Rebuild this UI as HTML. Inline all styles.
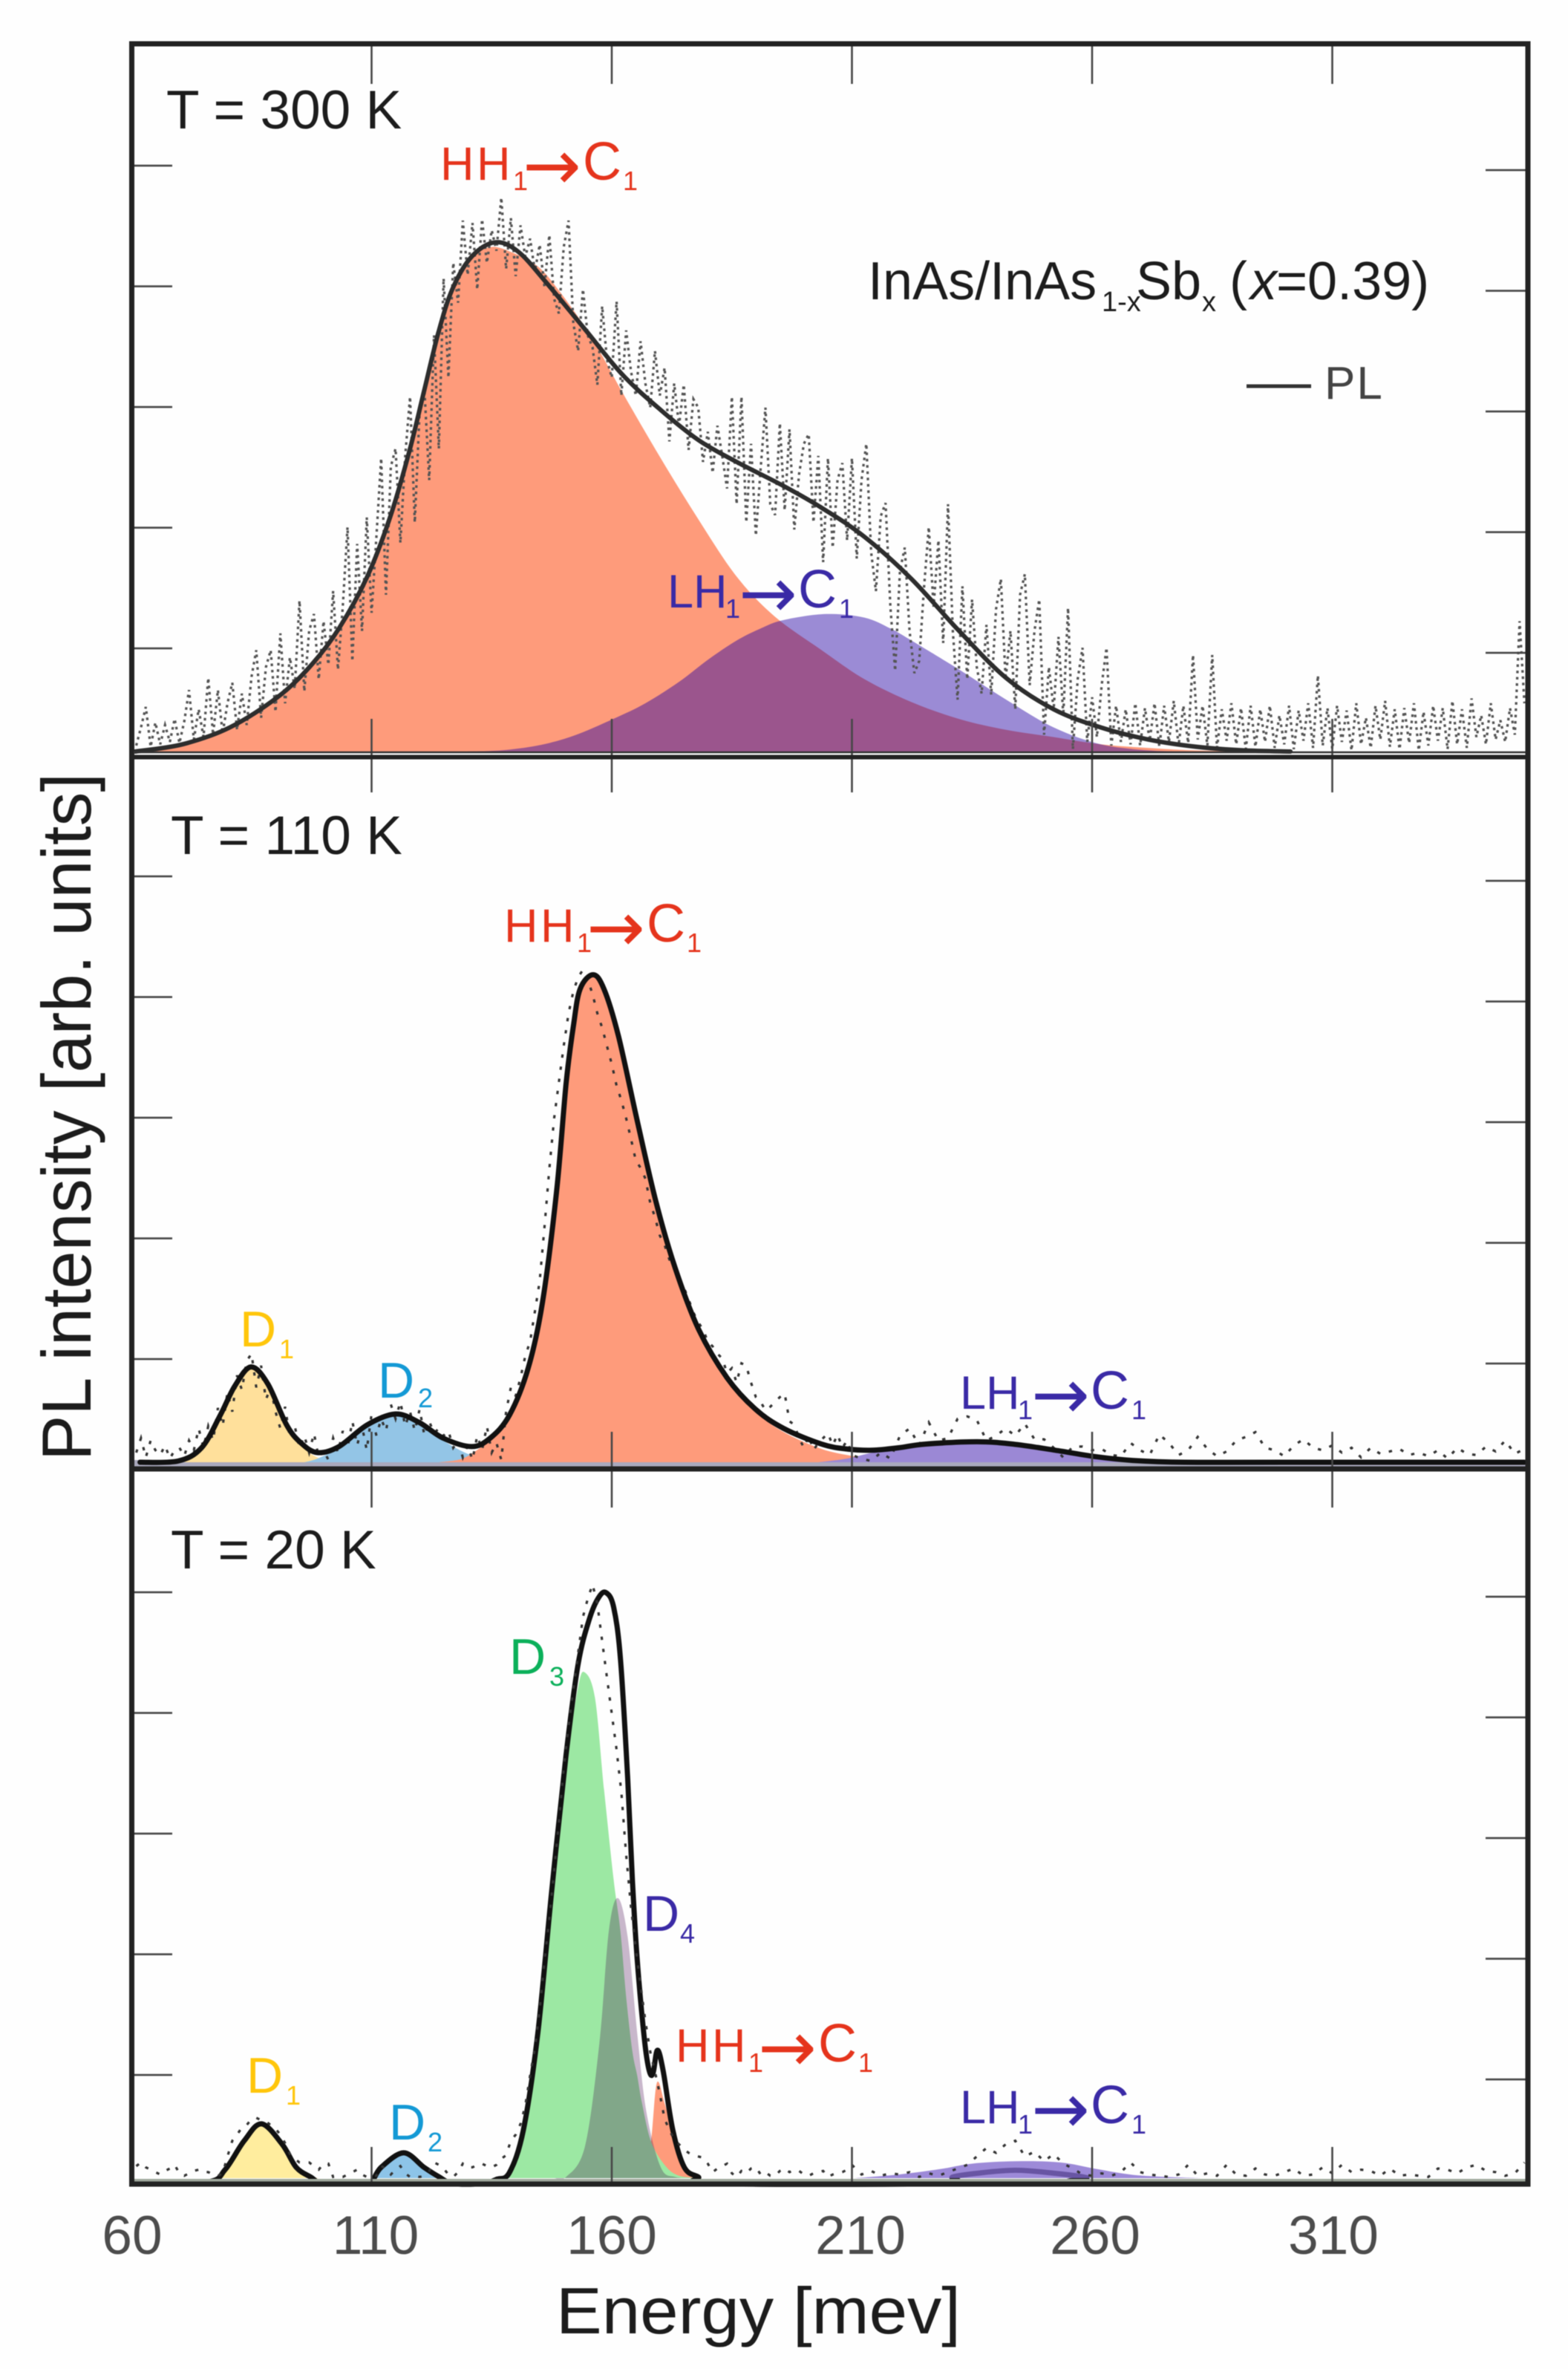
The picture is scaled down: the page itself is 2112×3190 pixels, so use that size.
<!DOCTYPE html>
<html lang="en">
<head>
<meta charset="utf-8">
<title>InAs/InAsSb PL spectra</title>
<style>
html,body{margin:0;padding:0;background:#fefefe;}
#chart{display:block;width:2112px;height:3190px;filter:blur(0.6px);font-family:"Liberation Sans",sans-serif;}
.arw{font-family:"DejaVu Sans",sans-serif;font-size:94px;}
.cap{font-size:72px;}
</style>
</head>
<body>
<svg id="chart" xmlns="http://www.w3.org/2000/svg" width="2112" height="3190" viewBox="0 0 2112 3190">
  <rect x="0" y="0" width="2112" height="3190" fill="#fefefe"/>
  <g id="marks"></g>
  <g id="ticks"></g>
  <g id="frames" fill="none" stroke="#222">
    <rect x="177.5" y="59" width="1880.5" height="2882" stroke-width="7"/>
    <line x1="177" y1="1019.5" x2="2058" y2="1019.5" stroke-width="6"/>
    <line x1="177" y1="1978" x2="2058" y2="1978" stroke-width="7"/>
    <line x1="180" y1="1013" x2="2055" y2="1013" stroke-width="2.5" stroke="#333"/>
  </g>

  <g id="text" font-family="'Liberation Sans',sans-serif">
    <text transform="translate(122,1967) rotate(-90)" font-size="94" fill="#1c1c1c" textLength="926" lengthAdjust="spacingAndGlyphs">PL intensity [arb. units]</text>
    <text x="749" y="3142" font-size="88" fill="#1c1c1c" textLength="545" lengthAdjust="spacingAndGlyphs">Energy [mev]</text>

    <text x="178" y="3035" font-size="73" fill="#4c4c4c" text-anchor="middle">60</text>
    <text x="506" y="3035" font-size="73" fill="#4c4c4c" text-anchor="middle">110</text>
    <text x="824" y="3035" font-size="73" fill="#4c4c4c" text-anchor="middle">160</text>
    <text x="1159" y="3035" font-size="73" fill="#4c4c4c" text-anchor="middle">210</text>
    <text x="1475" y="3035" font-size="73" fill="#4c4c4c" text-anchor="middle">260</text>
    <text x="1796" y="3035" font-size="73" fill="#4c4c4c" text-anchor="middle">310</text>

    <text x="224" y="173" font-size="73" fill="#1c1c1c">T = 300 K</text>
    <text x="230" y="1150" font-size="73" fill="#1c1c1c">T = 110 K</text>
    <text x="230" y="2112" font-size="73" fill="#1c1c1c">T = 20 K</text>

    <text font-size="72" fill="#1c1c1c"><tspan x="1169" y="403">InAs/InAs</tspan><tspan x="1484" y="419" font-size="38">1-x</tspan><tspan x="1530" y="403">Sb</tspan><tspan x="1619" y="419" font-size="38">x</tspan><tspan x="1656" y="403">(</tspan><tspan x="1684" y="403" font-style="italic">x</tspan><tspan x="1719" y="403">=0.39)</tspan></text>

    <line x1="1679" y1="520" x2="1766" y2="520" stroke="#333" stroke-width="5"/>
    <text x="1784" y="537" font-size="62" fill="#444" letter-spacing="2">PL</text>

    <g transform="translate(593,242)" fill="#e5341c">
      <text font-size="63"><tspan x="0" y="0">H</tspan><tspan x="49" y="0">H</tspan><tspan x="98" y="14" font-size="36">1</tspan><tspan class="arw" x="111" y="13">→</tspan><tspan class="cap" x="192" y="0">C</tspan><tspan x="246" y="14" font-size="36">1</tspan></text>
    </g>
    <g transform="translate(679,1268)" fill="#e5341c">
      <text font-size="63"><tspan x="0" y="0">H</tspan><tspan x="49" y="0">H</tspan><tspan x="98" y="14" font-size="36">1</tspan><tspan class="arw" x="111" y="13">→</tspan><tspan class="cap" x="192" y="0">C</tspan><tspan x="246" y="14" font-size="36">1</tspan></text>
    </g>
    <g transform="translate(910,2776)" fill="#e5341c">
      <text font-size="63"><tspan x="0" y="0">H</tspan><tspan x="49" y="0">H</tspan><tspan x="98" y="14" font-size="36">1</tspan><tspan class="arw" x="111" y="13">→</tspan><tspan class="cap" x="192" y="0">C</tspan><tspan x="246" y="14" font-size="36">1</tspan></text>
    </g>

    <g transform="translate(899,818)" fill="#3a2aa6">
      <text font-size="63"><tspan x="0" y="0">L</tspan><tspan x="35" y="0">H</tspan><tspan x="78" y="14" font-size="36">1</tspan><tspan class="arw" x="96" y="13">→</tspan><tspan class="cap" x="176" y="0">C</tspan><tspan x="231" y="14" font-size="36">1</tspan></text>
    </g>
    <g transform="translate(1293,1897)" fill="#3a2aa6">
      <text font-size="63"><tspan x="0" y="0">L</tspan><tspan x="35" y="0">H</tspan><tspan x="78" y="14" font-size="36">1</tspan><tspan class="arw" x="96" y="13">→</tspan><tspan class="cap" x="176" y="0">C</tspan><tspan x="231" y="14" font-size="36">1</tspan></text>
    </g>
    <g transform="translate(1293,2859)" fill="#3a2aa6">
      <text font-size="63"><tspan x="0" y="0">L</tspan><tspan x="35" y="0">H</tspan><tspan x="78" y="14" font-size="36">1</tspan><tspan class="arw" x="96" y="13">→</tspan><tspan class="cap" x="176" y="0">C</tspan><tspan x="231" y="14" font-size="36">1</tspan></text>
    </g>

    <text font-size="68" fill="#ffc60b"><tspan x="323" y="1813">D</tspan><tspan x="376" y="1829" font-size="36">1</tspan></text>
    <text font-size="68" fill="#1399d5"><tspan x="509" y="1882">D</tspan><tspan x="563" y="1895" font-size="36">2</tspan></text>
    <text font-size="68" fill="#ffc60b"><tspan x="332" y="2818">D</tspan><tspan x="385" y="2834" font-size="36">1</tspan></text>
    <text font-size="68" fill="#1399d5"><tspan x="524" y="2881">D</tspan><tspan x="576" y="2897" font-size="36">2</tspan></text>
    <text font-size="68" fill="#0bb05a"><tspan x="686" y="2254">D</tspan><tspan x="740" y="2270" font-size="36">3</tspan></text>
    <text font-size="68" fill="#3a2aa6"><tspan x="866" y="2600">D</tspan><tspan x="916" y="2616" font-size="36">4</tspan></text>
  </g>
</svg>

<script>
// ---- tick values ----
const xTickValues = [110,160,210,260,310];
const yTickValues = [85.5,185.5,285.5,385.5,485.5];

// ---- T = 300 K ----
const pl300Energy = [60.8,70.6,80.5,90.4,97.3,103.2,109.1,114,118,121,123.9,126.8,130.8,135.7,140.6,146.5,154.4,162.3,170.2,178.1,186,195.8,203.7,212.6,222.4,232.3,242.1,252,261.8,271.7,281.6,291.4,301.3];
const pl300Intensity = [0,6,20,45,71,102,145,196,251,300,347,383,410,422,414,388,350,312,283,258,240,220,202,178,143,100,61,35,20,10,4,1,0];
const hh300Energy = [60.8,70.6,80.5,90.4,97.3,103.2,109.1,114,118,121,123.9,126.8,130.8,134.7,139,144.6,149,154.4,158,162.3,170.2,178.1,186,193.9,203.7,212.6,222.4,232.3,242.1,252,261.8,271.7,281.6,295];
const hh300Intensity = [0,5,19,44,70,100,143,193,248,296,343,379,408,418,414,402,382,352,328,297,243,192,145,112,84,60,41,27,18,12,6,3,1,0];
const lh300Energy = [129.8,137,144.6,152,160.3,167,174.1,180,186,191,195.8,204.7,212.6,218,222.4,232.3,242.1,252,261.8,271.7,280];
const lh300Intensity = [0,1,5,13,27,40,58,76,92,102,109,114,111,102,92,68,43,20,6,1,0];
const noise300Start = 61;
const noise300Values = [
5,20,37,4,24,6,22,8,27,7,
25,51,10,35,12,61,14,51,15,40,
57,18,48,22,62,84,28,70,84,33,
98,40,78,52,125,50,100,114,60,108,
72,133,68,120,186,75,172,100,194,115,
178,243,130,236,251,173,245,294,190,282,
300,225,345,251,392,310,405,372,440,395,
438,383,441,405,432,415,459,400,442,394,
436,410,425,398,420,385,428,375,363,418,
440,355,332,383,345,335,304,369,325,310,
373,295,349,315,295,340,305,285,332,295,
318,257,305,270,304,250,292,285,240,265,
231,270,245,218,294,205,294,190,255,179,
235,285,205,196,272,200,267,184,230,255,
263,190,245,157,243,169,225,239,175,243,
160,225,255,165,133,195,206,120,67,150,
169,100,65,75,135,186,120,175,90,205,
100,43,137,60,126,70,48,105,47,118,
143,60,100,35,130,147,55,100,126,14,
70,35,95,30,119,2,60,86,8,45,
12,55,86,5,38,8,35,6,40,5,
36,9,40,4,38,8,42,5,38,7,
80,10,38,5,80,3,35,9,40,6,
36,2,38,4,35,8,38,3,30,6,
38,2,34,9,40,3,63,5,36,2,
38,8,34,1,40,6,28,3,38,10,
42,4,35,2,36,7,40,1,33,5,
38,9,36,2,42,6,35,3,44,12,
30,6,40,10,26,8,36,14,108,40];

// ---- T = 110 K ----
const pl110Energy = [61.8,69.7,74.6,78.5,81.5,84.9,88.4,92.3,95.3,98.7,103.2,109.1,115,119.9,124.9,130.8,134.7,138.7,142.6,145.6,148.5,150.5,152,153.4,156.1,158.4,161.4,165.3,169.2,173.2,178.1,184,189.9,195.8,203.7,208.9,214.3,219.7,225.2,236,243.6,252.3,261,268.5,279.4,300,350];
const pl110Intensity = [0,1,12,39,63,79,65,31,16,8,13,31,40,33,20,13,20,39,78,133,224,314,361,392,404,392,353,283,216,161,110,70,44,28,15,11,10,12,15,17,15,10,4.5,1.5,0,0,0];
const d1110Energy = [71,74.6,78.5,81.5,84.9,88.4,92.3,95.3,98.7,103];
const d1110Intensity = [0,11,38,62,78,64,30,14,4,0];
const d2110Energy = [96,98.7,103.2,109.1,115,119.9,124.9,130,135,140];
const d2110Intensity = [0,3,12,30,39,32,18,7,2,0];
const hh110Energy = [124,128,130.8,134.7,138.7,142.6,145.6,148.5,150.5,152,153.4,156.1,158.4,161.4,165.3,169.2,173.2,178.1,184,189.9,195.8,203.7,210.4,216,224];
const hh110Intensity = [0,2,7,19,38,77,132,223,313,360,391,403,391,352,282,215,160,109,69,42,25,11,5,2,0];
const lh110Energy = [203,208.9,214.3,219.7,225.2,236,243.6,252.3,261,268.5,276];
const lh110Intensity = [0,3,8,11,14,16,14,9,4,1,0];
// dotted data: 61..210 in 1 meV steps
const noise110Low = [
8,20,4,18,10,6,14,3,10,12,
5,18,10,28,12,30,18,45,30,58,
42,72,60,84,90,62,80,52,62,42,
28,46,20,30,12,22,8,24,4,10,
2,20,8,26,12,34,14,30,10,40,
22,36,26,48,36,50,30,42,26,44,
22,34,24,28,22,26,12,18,4,14,
2,22,10,30,8,16,2,42,62,55,
70,88,100,125,150,195,243,285,315,345,
372,390,402,408,400,388,372,360,345,330,
312,300,285,268,250,244,235,215,203,188,
180,168,161,150,145,135,124,116,110,100,
96,90,86,74,78,66,82,80,66,54,
50,43,46,50,54,57,34,31,20,12,
22,10,16,20,24,14,23,12,18,6];
// dotted data: 212..350 in 2 meV steps
const noise110High = [
3,1,8,3,22,28,14,33,18,20,
36,38,35,18,22,28,22,32,19,19,
12,4,13,13,10,11,6,5,16,10,
6,23,16,6,10,21,11,5,9,18,
21,25,12,10,5,14,19,12,10,14,
8,12,4,12,7,9,11,6,8,5,
10,3,12,7,6,13,9,18,7,11];

// ---- T = 20 K ----
const pl20Energy = [63,76,79.5,83.5,87.1,91.4,94.3,97.3,100,108,110,112,116.7,120.9,123.9,127,133,136,138.7,141.6,144.6,147.5,150.5,153,155.4,157.4,158.9,160.4,161.8,163.3,164.3,165.3,166.8,167.8,168.6,169.5,170.7,172.7,175.1,178,181,228,231,236,244,252.3,258.8,262,350];
const pl20Intensity = [-4.5,-3,7,31,45,28,9,1,-4.5,-4.5,-3,9,21,9,1.4,-4.5,-4.5,-1,4.7,40,120,238,351,426,464,482,485,473,431,332,247,181,115,89,87,106,89,40,9,1,-4.5,-4.5,1,4,6.5,4,0.5,-4.5,-4.5];
const d120Energy = [77.5,79.5,83.5,87.1,91.4,94.3,96.5,99];
const d120Intensity = [0,6,30,44,27,8,2,0];
const d220Energy = [110.5,112,116.7,120.9,123,125];
const d220Intensity = [0,7,20,8,1,0];
const d320Energy = [135,137.7,141.6,144.6,147.5,150.5,153,154.4,156.5,158.4,160.4,161.8,163,164.3,165.3,166.3,168.2,171.2,174,178];
const d320Intensity = [0,1,38,115,228,341,407,419,398,322,247,205,150,105,85,62,30,10,2,0];
const d420Energy = [148,150.5,154.4,157.4,159.4,161.3,163.3,165.3,167.2,170.2,173.2,177];
const d420Intensity = [0,1,26,111,205,232,200,120,55,9,1,0];
const hh20Energy = [165.5,167,168.2,169.4,171,172.7,175,178];
const hh20Intensity = [0,8,31,79,62,38,9,0];
const lh20Energy = [210.5,219.7,228.4,235,244.1,253.4,261,269.6,282.6];
const lh20Intensity = [0,3,7.5,12,14,13,7.5,2.3,0];
const noise20Low = [
10,13,9,7,5,3,6,8,11,4,
2,4,6,7,5,5,3,2,4,18,
31,36,42,44,49,50,48,47,44,41,
36,29,20,16,13,13,13,10,7,12,
12,1,2,1,3,5,7,3,1,2,
2,10,8,3,7,10,4,1,2,1,
2,6,13,11,8,3,1,5,12,9,
9,11,12,10,9,11,16,19,31,36,
45,60,85,108,140,180,215,255,295,340,
375,405,435,465,480,492,476,445,415,385,
355,320,268,225,190,160,130,105,88,70,
49,40,32,28,24,21,19,18,17,12,
5,8,10,12,4,1,6,4,8,9,
3,5,2,2,6,8,5,7,6,3,
2,4,5,6,1,3,4,5,7,11];
const noise20High = [
3,6,2,4,3,5,1,4,2,5,
8,11,18,25,21,28,31,18,22,14,
20,12,8,3,2,4,2,5,13,5,
3,2,1,3,11,2,4,2,11,3,
2,8,3,2,5,8,2,3,9,4,
11,5,7,6,2,8,2,3,2,1,
8,7,4,9,11,6,5,2,4,13];

// ---- axis functions ----
const PX_PER_MEV = 6.47;
const PX_PER_UNIT = 1.625;
const X_LEFT = 177;
const BASE_300 = 1012;
const BASE_110 = 1969;
const BASE_20 = 2933;
function xScale(energy){ return X_LEFT + (energy - 60) * PX_PER_MEV; }
function yScale(base, intensity){ return base - intensity * PX_PER_UNIT; }

const SVG_NS = 'http://www.w3.org/2000/svg';
const marks = document.getElementById('marks');
const tickGroup = document.getElementById('ticks');

function toPoints(energies, values, base){
  const pts = [];
  for (let i = 0; i < values.length && i < energies.length; i++){
    pts.push([xScale(energies[i]), yScale(base, values[i])]);
  }
  return pts;
}
function smoothPath(pts){
  let d = 'M' + pts[0][0].toFixed(1) + ' ' + pts[0][1].toFixed(1);
  for (let i = 0; i < pts.length - 1; i++){
    const p0 = pts[Math.max(i-1,0)], p1 = pts[i], p2 = pts[i+1], p3 = pts[Math.min(i+2,pts.length-1)];
    const c1x = p1[0] + (p2[0]-p0[0])/6, c1y = p1[1] + (p2[1]-p0[1])/6;
    const c2x = p2[0] - (p3[0]-p1[0])/6, c2y = p2[1] - (p3[1]-p1[1])/6;
    d += 'C' + c1x.toFixed(1) + ' ' + c1y.toFixed(1) + ' ' + c2x.toFixed(1) + ' ' + c2y.toFixed(1) + ' ' + p2[0].toFixed(1) + ' ' + p2[1].toFixed(1);
  }
  return d;
}
function drawFill(name, energies, values, base, color, opacity){
  const pts = toPoints(energies, values, base);
  const el = document.createElementNS(SVG_NS, 'path');
  const d = smoothPath(pts) + 'L' + pts[pts.length-1][0].toFixed(1) + ' ' + base + 'L' + pts[0][0].toFixed(1) + ' ' + base + 'Z';
  el.setAttribute('d', d);
  el.setAttribute('fill', color);
  if (opacity !== undefined) el.setAttribute('fill-opacity', opacity);
  
  
  marks.appendChild(el);
}
function drawCurve(name, energies, values, base, color, width){
  const el = document.createElementNS(SVG_NS, 'path');
  el.setAttribute('d', smoothPath(toPoints(energies, values, base)));
  el.setAttribute('fill', 'none');
  el.setAttribute('stroke', color);
  el.setAttribute('stroke-width', width);
  el.setAttribute('stroke-linejoin', 'round');
  el.setAttribute('stroke-linecap', 'round');
  
  
  marks.appendChild(el);
}
function drawNoise(name, energies, values, base, color, width, dash){
  const pts = toPoints(energies, values, base);
  const el = document.createElementNS(SVG_NS, 'polyline');
  el.setAttribute('points', pts.map(function(p){ return p[0].toFixed(1) + ',' + p[1].toFixed(1); }).join(' '));
  el.setAttribute('fill', 'none');
  el.setAttribute('stroke', color);
  el.setAttribute('stroke-width', width);
  el.setAttribute('stroke-dasharray', dash);
  
  
  marks.appendChild(el);
}
function drawStrip(name, top, height, color){
  const el = document.createElementNS(SVG_NS, 'rect');
  el.setAttribute('x', 180);
  el.setAttribute('y', top);
  el.setAttribute('width', 1875);
  el.setAttribute('height', height);
  el.setAttribute('fill', color);
  
  
  marks.appendChild(el);
}
function tickLine(name, x1, y1, x2, y2){
  const el = document.createElementNS(SVG_NS, 'line');
  el.setAttribute('x1', x1);
  el.setAttribute('y1', y1);
  el.setAttribute('x2', x2);
  el.setAttribute('y2', y2);
  el.setAttribute('stroke', '#474747');
  el.setAttribute('stroke-width', 2.6);
  
  
  tickGroup.appendChild(el);
}
function energyRange(start, step, count){
  const out = [];
  for (let i = 0; i < count; i++) out.push(start + step * i);
  return out;
}

// ---- panel 300 K ----
drawFill('hh1-c1-band-300k', hh300Energy, hh300Intensity, BASE_300, '#fe9b7b');
drawFill('lh1-c1-band-300k', lh300Energy, lh300Intensity, BASE_300, 'rgb(35,0,164)', 0.45);
drawNoise('raw-pl-300k', energyRange(noise300Start, 1, noise300Values.length), noise300Values, BASE_300, '#555', 3.3, '3.5 5');
drawCurve('pl-fit-300k', pl300Energy, pl300Intensity, BASE_300, '#2d2d2d', 6);

// ---- panel 110 K ----
drawStrip('baseline-strip-110k', 1966, 9, '#aaa9bd');
drawFill('d1-band-110k', d1110Energy, d1110Intensity, BASE_110, '#ffe09b');
drawFill('d2-band-110k', d2110Energy, d2110Intensity, BASE_110, '#93c5e6');
drawFill('hh1-c1-band-110k', hh110Energy, hh110Intensity, BASE_110, '#fe9b7b');
drawFill('lh1-c1-band-110k', lh110Energy, lh110Intensity, BASE_110, '#9b88d5');
drawNoise('raw-pl-110k', energyRange(61, 1, noise110Low.length).concat(energyRange(212, 2, noise110High.length)), noise110Low.concat(noise110High), BASE_110, '#333', 3.2, '4.5 12');
drawCurve('pl-fit-110k', pl110Energy, pl110Intensity, BASE_110, '#111', 7);

// ---- panel 20 K ----
drawFill('hh1-c1-band-20k', hh20Energy, hh20Intensity, BASE_20, '#fe9b7b');
drawFill('d1-band-20k', d120Energy, d120Intensity, BASE_20, '#ffed9e');
drawFill('d2-band-20k', d220Energy, d220Intensity, BASE_20, '#8dc4e8');
drawFill('d3-band-20k', d320Energy, d320Intensity, BASE_20, '#9ce8a3');
drawFill('d4-band-20k', d420Energy, d420Intensity, BASE_20, 'rgb(62,0,72)', 0.28);
drawCurve('pl-fit-20k', pl20Energy, pl20Intensity, BASE_20, '#111', 7);
drawFill('lh1-c1-band-20k', lh20Energy, lh20Intensity, BASE_20, 'rgb(130,105,205)', 0.78);
drawStrip('baseline-strip-20k', 2934, 6, '#9fa89c');
drawNoise('raw-pl-20k', energyRange(61, 1, noise20Low.length).concat(energyRange(212, 2, noise20High.length)), noise20Low.concat(noise20High), BASE_20, '#333', 3.2, '4.5 12');

// ---- ticks ----
const panelTops = [62, 1022, 1981];
const topTickEnds = [113, 1067, 2030];
const bottomTickStarts = [968, 1928, 2891];
const bottomTickEnds = [1017, 1975, 2939];
const panelBases = [BASE_300, BASE_110, BASE_20];
for (let p = 0; p < panelBases.length; p++){
  xTickValues.forEach(function(v){
    const x = xScale(v);
    tickLine('x-tick-top', x, panelTops[p], x, topTickEnds[p]);
    tickLine('x-tick-bottom', x, bottomTickStarts[p], x, bottomTickEnds[p]);
  });
  yTickValues.forEach(function(v){
    const y = yScale(panelBases[p], v);
    tickLine('y-tick-left', 180, y, 232, y);
    tickLine('y-tick-right', 2001, y + 6, 2055, y + 6);
  });
}
</script>
</body>
</html>
